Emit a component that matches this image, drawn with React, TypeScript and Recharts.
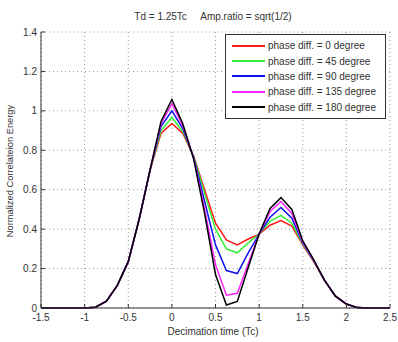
import React from "react";
import {
  LineChart,
  Line,
  XAxis,
  YAxis,
  CartesianGrid,
  Legend,
} from "recharts";

const W = 398;
const H = 342;
const PLOT_L = 41;
const PLOT_T = 32;
const PLOT_R = 390;
const PLOT_B = 308;
const FONT = "'Liberation Sans', Arial, sans-serif";

// decimation time in Tc, sampled every 1/8 chip
const X_VALUES = [
  -1.5, -1.375, -1.25, -1.125, -1, -0.875, -0.75, -0.625, -0.5, -0.375, -0.25,
  -0.125, 0, 0.125, 0.25, 0.375, 0.5, 0.625, 0.75, 0.875, 1, 1.125, 1.25,
  1.375, 1.5, 1.625, 1.75, 1.875, 2, 2.125, 2.25, 2.375, 2.5,
];

const PHASE_0 = [
  0, 0, 0, 0, 0, 0.004, 0.035, 0.115, 0.235, 0.45, 0.7, 0.885, 0.936, 0.885,
  0.77, 0.6, 0.43, 0.345, 0.32, 0.35, 0.375, 0.42, 0.443, 0.415, 0.32, 0.235,
  0.14, 0.06, 0.02, 0.002, 0, 0, 0,
];
const PHASE_45 = [
  0, 0, 0, 0, 0, 0.004, 0.035, 0.115, 0.235, 0.45, 0.7, 0.9, 0.966, 0.895,
  0.77, 0.58, 0.4, 0.3, 0.28, 0.33, 0.375, 0.44, 0.47, 0.43, 0.325, 0.238,
  0.14, 0.06, 0.02, 0.002, 0, 0, 0,
];
const PHASE_90 = [
  0, 0, 0, 0, 0, 0.004, 0.035, 0.115, 0.235, 0.45, 0.7, 0.92, 1.0, 0.91,
  0.765, 0.54, 0.32, 0.19, 0.175, 0.28, 0.375, 0.46, 0.51, 0.455, 0.33, 0.24,
  0.14, 0.06, 0.02, 0.002, 0, 0, 0,
];
const PHASE_135 = [
  0, 0, 0, 0, 0, 0.004, 0.035, 0.115, 0.235, 0.45, 0.7, 0.935, 1.037, 0.925,
  0.76, 0.5, 0.22, 0.065, 0.075, 0.225, 0.375, 0.49, 0.54, 0.48, 0.335, 0.242,
  0.14, 0.06, 0.02, 0.002, 0, 0, 0,
];
const PHASE_180 = [
  0, 0, 0, 0, 0, 0.004, 0.035, 0.115, 0.235, 0.45, 0.7, 0.945, 1.058, 0.935,
  0.755, 0.48, 0.17, 0.015, 0.033, 0.205, 0.375, 0.505, 0.56, 0.5, 0.34, 0.245,
  0.14, 0.06, 0.02, 0.002, 0, 0, 0,
];

const X_TICKS = [-1.5, -1, -0.5, 0, 0.5, 1, 1.5, 2, 2.5];
const Y_TICKS = [0, 0.2, 0.4, 0.6, 0.8, 1, 1.2, 1.4];

const SERIES = [
  { key: "p0", name: "phase diff. = 0 degree", color: "#ff1a1a", values: PHASE_0 },
  { key: "p45", name: "phase diff. = 45 degree", color: "#33ee33", values: PHASE_45 },
  { key: "p90", name: "phase diff. = 90 degree", color: "#1010ee", values: PHASE_90 },
  { key: "p135", name: "phase diff. = 135 degree", color: "#ff22ff", values: PHASE_135 },
  { key: "p180", name: "phase diff. = 180 degree", color: "#000000", values: PHASE_180 },
];

const rows = X_VALUES.map((x, i) => {
  const r: any = { x };
  SERIES.forEach((s) => (r[s.key] = s.values[i]));
  return r;
});

const TICK = 4;
const tickText = { fontFamily: FONT, fontSize: 10, fill: "#333" };

const BottomTick = (p: any) => (
  <g>
    <line x1={p.x} x2={p.x} y1={PLOT_B} y2={PLOT_B - TICK} stroke="#333" />
    <text x={p.x} y={p.y} dy="0.71em" textAnchor="middle" {...tickText}>
      {p.payload.value}
    </text>
  </g>
);

const LeftTick = (p: any) => (
  <g>
    <line x1={PLOT_L} x2={PLOT_L + TICK} y1={p.y} y2={p.y} stroke="#333" />
    <text x={p.x} y={p.y} dy="0.355em" textAnchor="end" {...tickText}>
      {p.payload.value}
    </text>
  </g>
);

const TopTick = (p: any) => (
  <line x1={p.x} x2={p.x} y1={PLOT_T} y2={PLOT_T + TICK} stroke="#333" />
);

const RightTick = (p: any) => (
  <line x1={PLOT_R} x2={PLOT_R - TICK} y1={p.y} y2={p.y} stroke="#333" />
);

const LegendBox = () => (
  <div
    style={{
      border: "1px solid #333",
      background: "#fff",
      padding: "3px 0",
      fontFamily: FONT,
      fontSize: 10,
      color: "#333",
      boxSizing: "border-box",
      width: 161,
    }}
  >
    {SERIES.map((s) => (
      <div
        key={s.key}
        style={{ display: "flex", alignItems: "center", height: 15.4 }}
      >
        <div
          style={{
            marginLeft: 6,
            width: 33,
            height: 2,
            background: s.color,
            marginRight: 3,
          }}
        />
        <span style={{ whiteSpace: "nowrap" }}>{s.name}</span>
      </div>
    ))}
  </div>
);

export default function App() {
  return (
    <div
      style={{
        position: "absolute",
        left: 0,
        top: 0,
        width: W,
        height: H,
        background: "#fff",
      }}
    >
      <div
        style={{
          position: "absolute",
          left: 0,
          width: W,
          top: 11,
          paddingLeft: 28,
          boxSizing: "border-box",
          textAlign: "center",
          fontFamily: FONT,
          fontSize: 10,
          color: "#333",
          whiteSpace: "pre",
        }}
      >
        {"Td = 1.25Tc     Amp.ratio = sqrt(1/2)"}
      </div>
      <LineChart
        width={W}
        height={H}
        data={rows}
        margin={{ top: PLOT_T, right: W - PLOT_R, bottom: 14, left: PLOT_L - 30 }}
      >
        <CartesianGrid
          stroke="#999"
          strokeDasharray="1 3"
          horizontalValues={Y_TICKS}
          verticalValues={X_TICKS}
        />
        <XAxis
          dataKey="x"
          type="number"
          domain={[-1.5, 2.5]}
          ticks={X_TICKS}
          height={20}
          tickSize={0}
          tickMargin={6}
          tickLine={false}
          tick={BottomTick}
          stroke="#333"
          interval={0}
        />
        <XAxis
          xAxisId="top"
          dataKey="x"
          type="number"
          orientation="top"
          domain={[-1.5, 2.5]}
          ticks={X_TICKS}
          height={0}
          tickLine={false}
          tick={TopTick}
          stroke="#333"
          interval={0}
        />
        <YAxis
          type="number"
          domain={[0, 1.4]}
          ticks={Y_TICKS}
          width={30}
          tickSize={0}
          tickMargin={4}
          tickLine={false}
          tick={LeftTick}
          stroke="#333"
          interval={0}
        />
        <YAxis
          yAxisId="right"
          type="number"
          orientation="right"
          domain={[0, 1.4]}
          ticks={Y_TICKS}
          width={0}
          tickLine={false}
          tick={RightTick}
          stroke="#333"
          interval={0}
        />
        {SERIES.map((s) => (
          <Line
            key={s.key}
            dataKey={s.key}
            name={s.name}
            type="linear"
            stroke={s.color}
            strokeWidth={1.5}
            dot={false}
            isAnimationActive={false}
          />
        ))}
        <Legend
          layout="horizontal"
          align="center"
          verticalAlign="middle"
          content={LegendBox}
          wrapperStyle={{ left: 225, top: 34, width: 161 }}
        />
      </LineChart>
      <div
        style={{
          position: "absolute",
          left: 0,
          width: W,
          top: 326,
          paddingLeft: 28,
          boxSizing: "border-box",
          textAlign: "center",
          fontFamily: FONT,
          fontSize: 10,
          color: "#333",
        }}
      >
        Decimation time (Tc)
      </div>
      <div
        style={{
          position: "absolute",
          left: 10,
          top: 171,
          transform: "translate(-50%, -50%) rotate(-90deg)",
          fontFamily: FONT,
          fontSize: 9.3,
          color: "#333",
          whiteSpace: "nowrap",
        }}
      >
        Normalized Correlateion Energy
      </div>
    </div>
  );
}
